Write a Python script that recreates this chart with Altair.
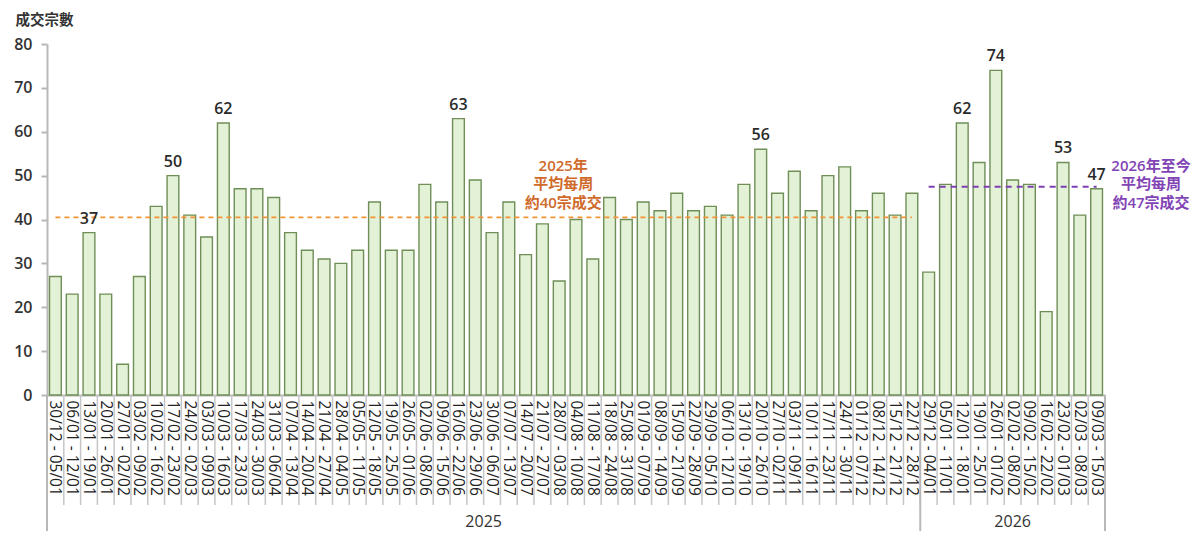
import altair as alt
import pandas as pd
import numpy as np

weeks_2025 = [
    "30/12 - 05/01", "06/01 - 12/01", "13/01 - 19/01", "20/01 - 26/01", "27/01 - 02/02",
    "03/02 - 09/02", "10/02 - 16/02", "17/02 - 23/02", "24/02 - 02/03", "03/03 - 09/03",
    "10/03 - 16/03", "17/03 - 23/03", "24/03 - 30/03", "31/03 - 06/04", "07/04 - 13/04",
    "14/04 - 20/04", "21/04 - 27/04", "28/04 - 04/05", "05/05 - 11/05", "12/05 - 18/05",
    "19/05 - 25/05", "26/05 - 01/06", "02/06 - 08/06", "09/06 - 15/06", "16/06 - 22/06",
    "23/06 - 29/06", "30/06 - 06/07", "07/07 - 13/07", "14/07 - 20/07", "21/07 - 27/07",
    "28/07 - 03/08", "04/08 - 10/08", "11/08 - 17/08", "18/08 - 24/08", "25/08 - 31/08",
    "01/09 - 07/09", "08/09 - 14/09", "15/09 - 21/09", "22/09 - 28/09", "29/09 - 05/10",
    "06/10 - 12/10", "13/10 - 19/10", "20/10 - 26/10", "27/10 - 02/11", "03/11 - 09/11",
    "10/11 - 16/11", "17/11 - 23/11", "24/11 - 30/11", "01/12 - 07/12", "08/12 - 14/12",
    "15/12 - 21/12", "22/12 - 28/12",
]
values_2025 = [
    27, 23, 37, 23, 7, 27, 43, 50, 41, 36,
    62, 47, 47, 45, 37, 33, 31, 30, 33, 44,
    33, 33, 48, 44, 63, 49, 37, 44, 32, 39,
    26, 40, 31, 45, 40, 44, 42, 46, 42, 43,
    41, 48, 56, 46, 51, 42, 50, 52, 42, 46,
    41, 46,
]
weeks_2026 = [
    "29/12 - 04/01", "05/01 - 11/01", "12/01 - 18/01", "19/01 - 25/01", "26/01 - 01/02",
    "02/02 - 08/02", "09/02 - 15/02", "16/02 - 22/02", "23/02 - 01/03", "02/03 - 08/03",
    "09/03 - 15/03",
]
values_2026 = [28, 48, 62, 53, 74, 49, 48, 19, 53, 41, 47]

labelled_weeks = [
    "13/01 - 19/01", "17/02 - 23/02", "10/03 - 16/03", "16/06 - 22/06", "20/10 - 26/10",
    "12/01 - 18/01", "26/01 - 01/02", "23/02 - 01/03", "09/03 - 15/03",
]
note_2025 = "2025年\n平均每周\n約40宗成交"
note_2026 = "2026年至今\n平均每周\n約47宗成交"
years = ["2025", "2026"]

FONT = "Open Sans, Noto Sans CJK TC, sans-serif"
W, H = 1058, 351
GRAY = "#b8b8b8"

all_weeks = weeks_2025 + weeks_2026
df = pd.DataFrame({
    "week": all_weeks,
    "value": values_2025 + values_2026,
    "year": [years[0]] * len(weeks_2025) + [years[1]] * len(weeks_2026),
})
df["show"] = df["week"].isin(labelled_weeks)

xscale = alt.Scale(domain=all_weeks, paddingInner=0, paddingOuter=0)
yscale = alt.Scale(domain=[0, 80])


def X(**kw):
    return alt.X("week:N", sort=None, scale=xscale, **kw)


bars = alt.Chart(df).mark_bar(
    width=alt.RelativeBandSize(0.7), fill="#e3f1d7", stroke="#6f8f57", strokeWidth=1.4
).encode(
    x=X(axis=alt.Axis(
        title=None, labelAngle=90, labelAlign="left", labelBaseline="middle",
        labelPadding=5, labelFontSize=15.5, labelColor="#222", labelFont=FONT,
        ticks=False, domainColor=GRAY, domainWidth=2,
    )),
    y=alt.Y("value:Q", scale=yscale, axis=alt.Axis(
        values=list(range(0, 81, 10)), grid=False, tickSize=6, tickColor=GRAY,
        tickWidth=2, domainColor=GRAY, domainWidth=2, labelPadding=9,
        labelFontSize=16, labelFontWeight=600, labelColor="#333", labelFont=FONT,
        title="成交宗數", titleAngle=0, titleAlign="left", titleBaseline="middle",
        titleX=-32, titleY=-24, titleFontSize=14.5, titleFontWeight=600,
        titleColor="#333", titleFont=FONT,
    )),
)

labels = alt.Chart(df).transform_filter("datum.show").mark_text(
    dy=-9, baseline="alphabetic", fontSize=16, fontWeight=600, color="#2a2a2a", font=FONT
).encode(x=X(), y=alt.Y("value:Q", scale=yscale), text="value:Q")

# separators between week labels
seps = alt.Chart(df).mark_rule(color="#c6c6c6", strokeWidth=1.5).encode(
    x=X(bandPosition=0), y=alt.value(H), y2=alt.value(H + 110)
)

# year boundary lines
starts = pd.DataFrame({"week": [weeks_2025[0], weeks_2026[0]]})
ends = pd.DataFrame({"week": [weeks_2026[-1]]})
bound_start = alt.Chart(starts).mark_rule(color=GRAY, strokeWidth=2).encode(
    x=X(bandPosition=0), y=alt.value(H), y2=alt.value(H + 136)
)
bound_end = alt.Chart(ends).mark_rule(color=GRAY, strokeWidth=2).encode(
    x=X(bandPosition=1), y=alt.value(H), y2=alt.value(H + 136)
)

# year labels
y25 = pd.DataFrame({"week": [weeks_2025[len(weeks_2025) // 2]], "t": [years[0]]})
y26 = pd.DataFrame({"week": [weeks_2026[len(weeks_2026) // 2]], "t": [years[1]]})
ylab25 = alt.Chart(y25).mark_text(fontSize=16, color="#333", font=FONT, baseline="middle").encode(
    x=X(bandPosition=0), y=alt.value(H + 127), text="t:N"
)
ylab26 = alt.Chart(y26).mark_text(fontSize=16, color="#333", font=FONT, baseline="middle").encode(
    x=X(bandPosition=0.5), y=alt.value(H + 127), text="t:N"
)

# average lines
avg25 = float(np.mean(values_2025))
avg26 = float(np.mean(values_2026))
a25 = pd.DataFrame({"week": [weeks_2025[0]], "week2": [weeks_2025[-1]], "value": [avg25]})
a26 = pd.DataFrame({"week": [weeks_2026[0]], "week2": [weeks_2026[-1]], "value": [avg26]})
line25 = alt.Chart(a25).mark_rule(color="#f39333", strokeWidth=1.6, strokeDash=[5, 4]).encode(
    x=X(), x2="week2:N", y=alt.Y("value:Q", scale=yscale)
)
line26 = alt.Chart(a26).mark_rule(color="#7d3fb3", strokeWidth=2, strokeDash=[6, 5]).encode(
    x=X(), x2="week2:N", y=alt.Y("value:Q", scale=yscale)
)

n25 = pd.DataFrame({"week": [weeks_2025[30]], "value": [52.2], "t": [note_2025]})
n26 = pd.DataFrame({"week": [weeks_2026[-1]], "value": [52.2], "t": [note_2026]})
text25 = alt.Chart(n25).mark_text(
    lineBreak="\n", lineHeight=18.5, fontSize=15, fontWeight=600, color="#d06a2a",
    font=FONT, align="center", baseline="middle", dx=4,
).encode(x=X(), y=alt.Y("value:Q", scale=yscale), text="t:N")
text26 = alt.Chart(n26).mark_text(
    lineBreak="\n", lineHeight=18.5, fontSize=15, fontWeight=600, color="#8244b5",
    font=FONT, align="center", baseline="middle", dx=46,
).encode(x=X(bandPosition=1), y=alt.Y("value:Q", scale=yscale), text="t:N")

chart = alt.layer(
    bars, line25, line26, labels, seps, bound_start, bound_end, ylab25, ylab26, text25, text26
).properties(
    width=W, height=H,
    autosize=alt.AutoSizeParams(type="none"),
    padding={"left": 39, "top": 36, "right": 86, "bottom": 138},
).configure(font=FONT).configure_view(strokeWidth=0)

chart.save("out.html", embed_options={"renderer": "svg", "actions": False})
